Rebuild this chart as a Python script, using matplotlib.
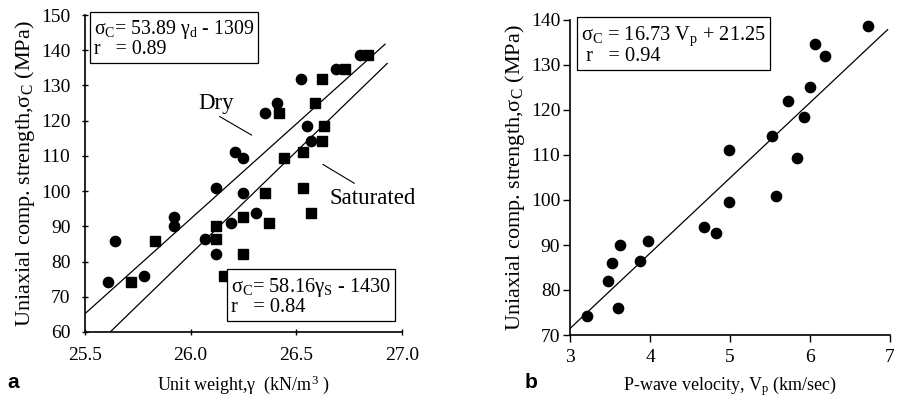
import matplotlib
matplotlib.use("Agg")
import matplotlib.pyplot as plt
import numpy as np

plt.rcParams['font.family'] = ['Liberation Serif', 'DejaVu Serif']
plt.rcParams['mathtext.fontset'] = 'custom'
plt.rcParams['mathtext.rm'] = 'Liberation Serif'
plt.rcParams['mathtext.it'] = 'Liberation Serif:italic'

# Uniaxial compressive strength of each sample (MPa)
ucs = [74.3, 76.0, 82.1, 85.9, 86.4, 90.1, 90.9, 92.6, 93.9, 99.5,
       100.8, 109.3, 111.2, 114.3, 118.5, 122.1, 125.1, 131.9, 134.6, 138.7]
# Dry unit weight (kN/m3)
gamma_dry = [25.61, 25.78, 26.12, 25.64, 26.07, 25.92, 26.19, 25.92, 26.31, 26.25,
             26.12, 26.25, 26.21, 26.57, 26.55, 26.35, 26.41, 26.52, 26.69, 26.80]
# Saturated unit weight (kN/m3)
gamma_sat = [25.72, 26.16, 26.25, 25.83, 26.12, 26.12, 26.37, 26.25, 26.57, 26.35,
             26.53, 26.44, 26.53, 26.62, 26.63, 26.42, 26.59, 26.62, 26.73, 26.84]
# P-wave velocity (km/sec)
vp = [3.21, 3.60, 3.48, 3.52, 3.88, 3.62, 3.98, 4.83, 4.67, 4.99,
      5.58, 5.84, 4.99, 5.53, 5.93, 5.72, 6.00, 6.19, 6.06, 6.73]

# Regression coefficients (slope, intercept)
fit_dry = (53.89, -1309)
fit_sat = (58.16, -1430)
fit_vp = (16.73, 21.25)

left_xticks = [25.5, 26.0, 26.5, 27.0]
left_yticks = [60, 70, 80, 90, 100, 110, 120, 130, 140, 150]
right_xticks = [3, 4, 5, 6, 7]
right_yticks = [70, 80, 90, 100, 110, 120, 130, 140]

TICK_FS = 14
BOX_FS = 14.3
XLAB_FS = 13
YLAB_FS = 16
NOTE_FS = 16.5

fig = plt.figure(figsize=(9.04, 4.03), dpi=100)
W, H = 904, 403


def px_axes(x0, y0, x1, y1):
    return fig.add_axes([x0 / W, 1 - y1 / H, (x1 - x0) / W, (y1 - y0) / H])


def style(ax, direction, pad):
    for s in ('top', 'right'):
        ax.spines[s].set_visible(False)
    for s in ('left', 'bottom'):
        ax.spines[s].set_linewidth(1.2)
    ax.tick_params(direction=direction, length=5, width=1.0, labelsize=TICK_FS, pad=pad)


box = dict(boxstyle='square,pad=0.2', fc='white', ec='black', lw=0.9)

# ---- panel a: unit weight ----
axa = px_axes(85, 15, 402, 332)
style(axa, 'inout', 8)
axa.tick_params(axis='x', pad=8)
axa.set_xlim(25.5, 27.0)
axa.set_ylim(60, 150)
axa.set_xticks(left_xticks)
axa.set_xticklabels([f"{t:.1f}" for t in left_xticks])
axa.set_yticks(left_yticks)

axa.plot(gamma_dry, ucs, 'o', color='black', ms=7.4, clip_on=False)
axa.plot(gamma_sat, ucs, 's', color='black', ms=6.6, clip_on=False)

gx = np.array([25.5, 26.92])
axa.plot(gx, fit_dry[0] * gx + fit_dry[1], color='black', lw=0.9)
gs = np.array([(60 - fit_sat[1]) / fit_sat[0], 26.93])
axa.plot(gs, fit_sat[0] * gs + fit_sat[1], color='black', lw=0.9)

axa.annotate('', xy=(26.30, 115.5), xytext=(26.125, 121.6),
             arrowprops=dict(arrowstyle='-', color='black', lw=0.8))
axa.text(26.12, 125.0, 'Dry', fontsize=NOTE_FS, ha='center', va='center')
axa.annotate('', xy=(26.786, 101.8), xytext=(26.614, 108.0),
             arrowprops=dict(arrowstyle='-', color='black', lw=0.8))
axa.text(26.655, 97.8, 'Saturated', fontsize=NOTE_FS, ha='left', va='center')

axa.text(0.028, 0.99, f'σ$_\\mathrm{{C}}$= {fit_dry[0]:.2f} γ$_\\mathrm{{d}}$ - {-fit_dry[1]}\nr   = 0.89',
         transform=axa.transAxes, fontsize=BOX_FS, ha='left', va='top', bbox=box,
         linespacing=0.95)
axa.text(0.461, 0.178, f'σ$_\\mathrm{{C}}$= {fit_sat[0]:.2f}γ$_\\mathrm{{S}}$ - {-fit_sat[1]}\nr   = 0.84',
         transform=axa.transAxes, fontsize=BOX_FS + 0.4, ha='left', va='top', bbox=box,
         linespacing=0.95)

axa.set_xlabel('Unit weight,γ  (kN/m$^3$ )', fontsize=XLAB_FS, labelpad=7)
axa.set_ylabel('Uniaxial comp. strength,σ$_\\mathrm{C}$ (MPa)', fontsize=YLAB_FS, labelpad=3)

# ---- panel b: P-wave velocity ----
axb = px_axes(570, 20, 890, 335)
style(axb, 'out', 2)
axb.tick_params(axis='x', pad=5)
axb.set_xlim(3, 7)
axb.set_ylim(70, 140)
axb.set_xticks(right_xticks)
axb.set_yticks(right_yticks)

axb.plot(vp, ucs, 'o', color='black', ms=7.4, clip_on=False)
vx = np.array([3.0, 6.97])
axb.plot(vx, fit_vp[0] * vx + fit_vp[1], color='black', lw=0.9)

axb.text(0.035, 0.987, f'σ$_\\mathrm{{C}}$ = {fit_vp[0]:.2f} V$_\\mathrm{{p}}$ + {fit_vp[1]:.2f}\n r   = 0.94',
         transform=axb.transAxes, fontsize=BOX_FS + 0.4, ha='left', va='top', bbox=box,
         linespacing=0.95)

axb.set_xlabel('P-wave velocity, V$_\\mathrm{p}$ (km/sec)', fontsize=XLAB_FS, labelpad=6)
axb.set_ylabel('Uniaxial comp. strength,σ$_\\mathrm{C}$ (MPa)', fontsize=YLAB_FS, labelpad=3)

fig.text(13 / W, 1 - 383 / H, 'a', fontsize=15, fontweight='bold',
         family='Liberation Sans', ha='center', va='center')
fig.text(531 / W, 1 - 383 / H, 'b', fontsize=15, fontweight='bold',
         family='Liberation Sans', ha='center', va='center')

fig.savefig('out.png', dpi=100)
